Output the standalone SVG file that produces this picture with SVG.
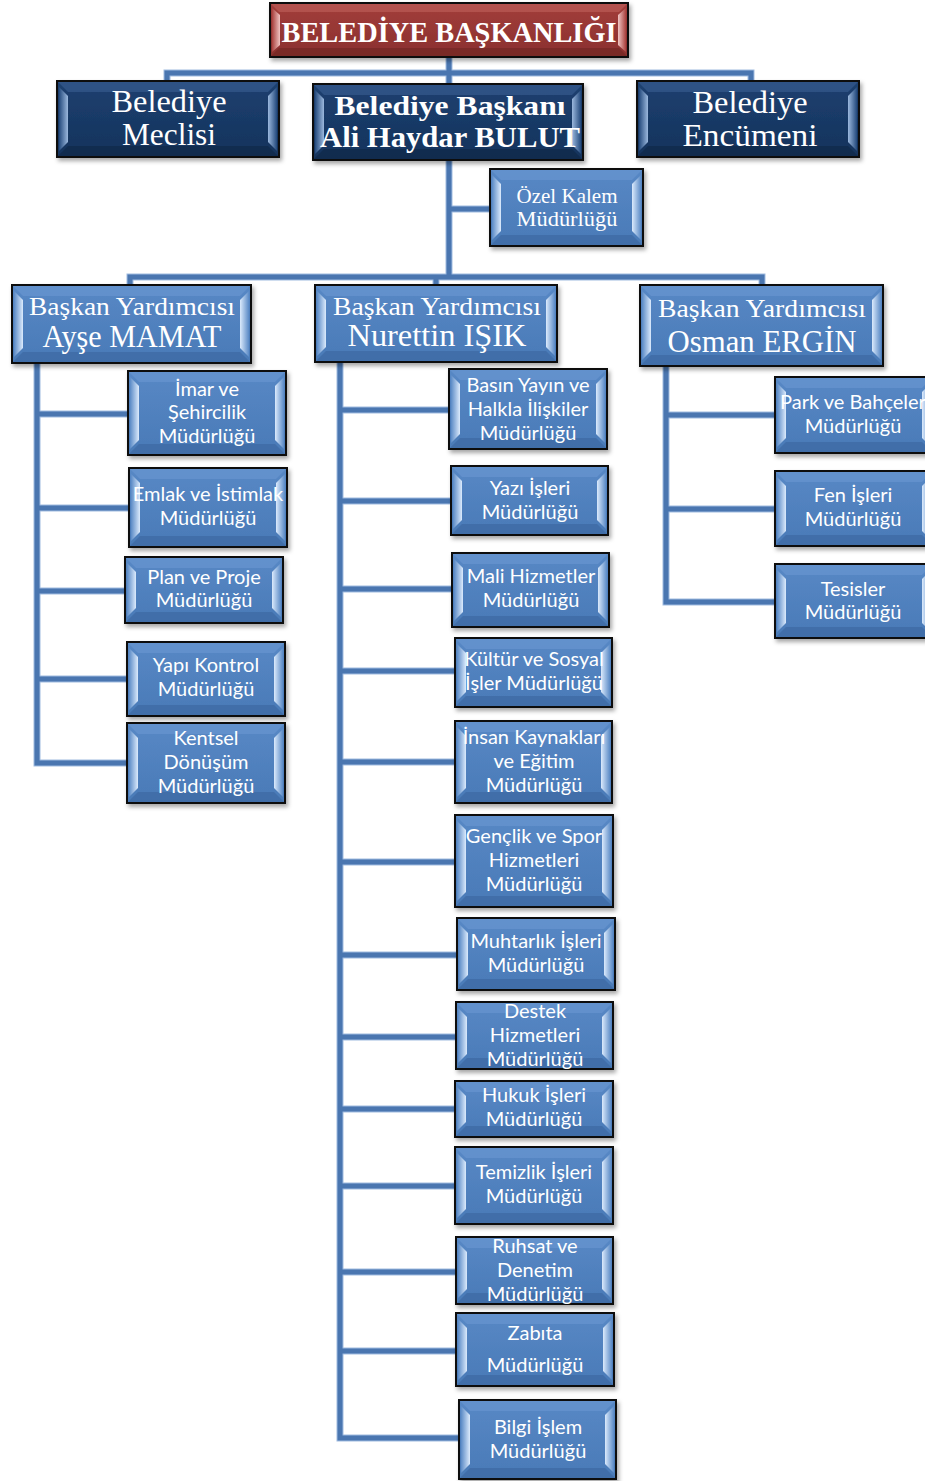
<svg xmlns="http://www.w3.org/2000/svg" width="925" height="1481" viewBox="0 0 925 1481">
<defs>
<filter id="sh" x="-10%" y="-10%" width="125%" height="130%"><feDropShadow dx="2" dy="3" stdDeviation="2" flood-color="#000" flood-opacity="0.35"/></filter>
<linearGradient id="gb" x1="0" y1="0" x2="0" y2="1"><stop offset="0" stop-color="#5788c5"/><stop offset="1" stop-color="#4a7ab7"/></linearGradient>
<linearGradient id="gn" x1="0" y1="0" x2="0" y2="1"><stop offset="0" stop-color="#1d4070"/><stop offset="1" stop-color="#15335c"/></linearGradient>
<linearGradient id="gr" x1="0" y1="0" x2="0" y2="1"><stop offset="0" stop-color="#a33e3b"/><stop offset="1" stop-color="#8a302e"/></linearGradient>
<linearGradient id="flb" x1="0" y1="0" x2="1" y2="0"><stop offset="0" stop-color="#5a8ac6"/><stop offset="1" stop-color="#dbeafc"/></linearGradient>
<linearGradient id="frb" x1="1" y1="0" x2="0" y2="0"><stop offset="0" stop-color="#5a8ac6"/><stop offset="1" stop-color="#dbeafc"/></linearGradient>
<linearGradient id="fln" x1="0" y1="0" x2="1" y2="0"><stop offset="0" stop-color="#23497c"/><stop offset="1" stop-color="#9bb8dd"/></linearGradient>
<linearGradient id="frn" x1="1" y1="0" x2="0" y2="0"><stop offset="0" stop-color="#23497c"/><stop offset="1" stop-color="#9bb8dd"/></linearGradient>
<linearGradient id="flr" x1="0" y1="0" x2="1" y2="0"><stop offset="0" stop-color="#a8403d"/><stop offset="1" stop-color="#f0c4c2"/></linearGradient>
<linearGradient id="frr" x1="1" y1="0" x2="0" y2="0"><stop offset="0" stop-color="#a8403d"/><stop offset="1" stop-color="#f0c4c2"/></linearGradient>
</defs>
<style>
.bx{stroke:#111;stroke-width:2;filter:url(#sh)}
.blue .bx{fill:url(#gb)} .navy .bx{fill:url(#gn)} .red .bx{fill:url(#gr)}
.blue .fl{fill:url(#flb)} .blue .fr{fill:url(#frb)}
.navy .fl{fill:url(#fln)} .navy .fr{fill:url(#frn)}
.red .fl{fill:url(#flr)} .red .fr{fill:url(#frr)}
.blue .ft{fill:#6a98d2;opacity:.6} .blue .fb{fill:#3a669f;opacity:.6}
.navy .ft{fill:#3a5f92;opacity:.6} .navy .fb{fill:#0f2645;opacity:.6}
.red .ft{fill:#c0605c;opacity:.6} .red .fb{fill:#6e2422;opacity:.6}
text{fill:#fff;text-anchor:middle}
.s{font-family:Lato,"Liberation Sans",sans-serif;font-size:20px}
.sf{font-family:"Liberation Serif","DejaVu Serif",serif}
.cn path{fill:none;stroke-linejoin:miter}
.cn .o{stroke:#9fbbe0;stroke-width:7}
.cn .i{stroke:#4a76b0;stroke-width:5}
</style>

<g class="cn" id="connectors">
<g class="o">
<path d="M449 57V84M167 81V73H751V81M449 160V277M449 209H490M130 285V277H762V285M436 277V285"/>
<path d="M37 363V763H127M37 414H128M37 508H129M37 591H125M37 679H127"/>
<path d="M340 362V1438H459M340 410H449M340 501H451M340 589H452M340 671H455M340 762H455M340 862H455M340 955H457M340 1037H456M340 1109H455M340 1186H455M340 1272H456M340 1351H456"/>
<path d="M666 366V602H775M666 415H775M666 509H775"/>
</g>
<g class="i">
<path d="M449 57V84M167 81V73H751V81M449 160V277M449 209H490M130 285V277H762V285M436 277V285"/>
<path d="M37 363V763H127M37 414H128M37 508H129M37 591H125M37 679H127"/>
<path d="M340 362V1438H459M340 410H449M340 501H451M340 589H452M340 671H455M340 762H455M340 862H455M340 955H457M340 1037H456M340 1109H455M340 1186H455M340 1272H456M340 1351H456"/>
<path d="M666 366V602H775M666 415H775M666 509H775"/>
</g>
</g>

<g id="baskanlik" class="red" transform="translate(270,3)">
<rect class="bx" width="358" height="54"/>
<path class="ft" d="M1 1H357L349 9H9Z"/><path class="fb" d="M1 53H357L349 45H9Z"/>
<path class="fl" d="M2 5L10 12V42L2 49Z"/><path class="fr" d="M356 5L348 12V42L356 49Z"/>
<text class="sf" x="179" y="39" font-size="30" font-weight="bold" textLength="335" lengthAdjust="spacingAndGlyphs">BELEDİYE BAŞKANLIĞI</text>
</g>

<g id="meclis" class="navy" transform="translate(57,81)">
<rect class="bx" width="222" height="76"/>
<path class="ft" d="M1 1H221L211 11H11Z"/><path class="fb" d="M1 75H221L211 65H11Z"/>
<path class="fl" d="M2 6L11 15V61L2 70Z"/><path class="fr" d="M220 6L211 15V61L220 70Z"/>
<text class="sf" x="112" y="31" font-size="31" textLength="115" lengthAdjust="spacingAndGlyphs">Belediye</text>
<text class="sf" x="112" y="64" font-size="31" textLength="94" lengthAdjust="spacingAndGlyphs">Meclisi</text>
</g>

<g id="baskan" class="navy" transform="translate(313,84)">
<rect class="bx" width="270" height="76"/>
<path class="ft" d="M1 1H269L259 11H11Z"/><path class="fb" d="M1 75H269L259 65H11Z"/>
<path class="fl" d="M2 6L11 15V61L2 70Z"/><path class="fr" d="M268 6L259 15V61L268 70Z"/>
<text class="sf" x="137" y="31" font-size="28" font-weight="bold" textLength="231" lengthAdjust="spacingAndGlyphs">Belediye Başkanı</text>
<text class="sf" x="137" y="63" font-size="29" font-weight="bold" textLength="260" lengthAdjust="spacingAndGlyphs">Ali Haydar BULUT</text>
</g>

<g id="encumen" class="navy" transform="translate(637,81)">
<rect class="bx" width="222" height="76"/>
<path class="ft" d="M1 1H221L211 11H11Z"/><path class="fb" d="M1 75H221L211 65H11Z"/>
<path class="fl" d="M2 6L11 15V61L2 70Z"/><path class="fr" d="M220 6L211 15V61L220 70Z"/>
<text class="sf" x="113" y="32" font-size="31" textLength="115" lengthAdjust="spacingAndGlyphs">Belediye</text>
<text class="sf" x="113" y="65" font-size="31" textLength="135" lengthAdjust="spacingAndGlyphs">Encümeni</text>
</g>

<g id="ozelkalem" class="blue" transform="translate(490,169)">
<rect class="bx" width="153" height="77"/>
<path class="ft" d="M1 1H152L142 11H11Z"/><path class="fb" d="M1 76H152L142 66H11Z"/>
<path class="fl" d="M2 6L11 15V62L2 71Z"/><path class="fr" d="M151 6L142 15V62L151 71Z"/>
<text class="sf" x="77" y="34" font-size="21" textLength="101" lengthAdjust="spacingAndGlyphs">Özel Kalem</text>
<text class="sf" x="77" y="57" font-size="21" textLength="101" lengthAdjust="spacingAndGlyphs">Müdürlüğü</text>
</g>

<g id="vp-ayse" class="blue" transform="translate(12,285)">
<rect class="bx" width="239" height="78"/>
<path class="ft" d="M1 1H238L228 11H11Z"/><path class="fb" d="M1 77H238L228 67H11Z"/>
<path class="fl" d="M2 6L11 15V63L2 72Z"/><path class="fr" d="M237 6L228 15V63L237 72Z"/>
<text class="sf" x="120" y="30" font-size="26" textLength="206" lengthAdjust="spacingAndGlyphs">Başkan Yardımcısı</text>
<text class="sf" x="120" y="62" font-size="31" textLength="179" lengthAdjust="spacingAndGlyphs">Ayşe MAMAT</text>
</g>

<g id="vp-nurettin" class="blue" transform="translate(315,285)">
<rect class="bx" width="242" height="77"/>
<path class="ft" d="M1 1H241L231 11H11Z"/><path class="fb" d="M1 76H241L231 66H11Z"/>
<path class="fl" d="M2 6L11 15V62L2 71Z"/><path class="fr" d="M240 6L231 15V62L240 71Z"/>
<text class="sf" x="122" y="30" font-size="26" textLength="208" lengthAdjust="spacingAndGlyphs">Başkan Yardımcısı</text>
<text class="sf" x="122" y="61" font-size="31" textLength="179" lengthAdjust="spacingAndGlyphs">Nurettin IŞIK</text>
</g>

<g id="vp-osman" class="blue" transform="translate(640,285)">
<rect class="bx" width="243" height="81"/>
<path class="ft" d="M1 1H242L232 11H11Z"/><path class="fb" d="M1 80H242L232 70H11Z"/>
<path class="fl" d="M2 6L11 15V66L2 75Z"/><path class="fr" d="M241 6L232 15V66L241 75Z"/>
<text class="sf" x="122" y="32" font-size="26" textLength="208" lengthAdjust="spacingAndGlyphs">Başkan Yardımcısı</text>
<text class="sf" x="122" y="67" font-size="31" textLength="189" lengthAdjust="spacingAndGlyphs">Osman ERGİN</text>
</g>

<g id="imar" class="blue" transform="translate(128,371)">
<rect class="bx" width="158" height="84"/>
<path class="ft" d="M1 1H157L147 11H11Z"/><path class="fb" d="M1 83H157L147 73H11Z"/>
<path class="fl" d="M2 6L11 15V69L2 78Z"/><path class="fr" d="M156 6L147 15V69L156 78Z"/>
<text class="s" x="79" y="25">İmar ve</text><text class="s" x="79" y="48">Şehircilik</text><text class="s" x="79" y="72">Müdürlüğü</text>
</g>

<g id="emlak" class="blue" transform="translate(129,468)">
<rect class="bx" width="158" height="79"/>
<path class="ft" d="M1 1H157L147 11H11Z"/><path class="fb" d="M1 78H157L147 68H11Z"/>
<path class="fl" d="M2 6L11 15V64L2 73Z"/><path class="fr" d="M156 6L147 15V64L156 73Z"/>
<text class="s" x="79" y="33">Emlak ve İstimlak</text><text class="s" x="79" y="57">Müdürlüğü</text>
</g>

<g id="plan" class="blue" transform="translate(125,557)">
<rect class="bx" width="158" height="66"/>
<path class="ft" d="M1 1H157L147 11H11Z"/><path class="fb" d="M1 65H157L147 55H11Z"/>
<path class="fl" d="M2 6L11 15V51L2 60Z"/><path class="fr" d="M156 6L147 15V51L156 60Z"/>
<text class="s" x="79" y="27">Plan ve Proje</text><text class="s" x="79" y="50">Müdürlüğü</text>
</g>

<g id="yapi" class="blue" transform="translate(127,642)">
<rect class="bx" width="158" height="74"/>
<path class="ft" d="M1 1H157L147 11H11Z"/><path class="fb" d="M1 73H157L147 63H11Z"/>
<path class="fl" d="M2 6L11 15V59L2 68Z"/><path class="fr" d="M156 6L147 15V59L156 68Z"/>
<text class="s" x="79" y="30">Yapı Kontrol</text><text class="s" x="79" y="54">Müdürlüğü</text>
</g>

<g id="kentsel" class="blue" transform="translate(127,723)">
<rect class="bx" width="158" height="80"/>
<path class="ft" d="M1 1H157L147 11H11Z"/><path class="fb" d="M1 79H157L147 69H11Z"/>
<path class="fl" d="M2 6L11 15V65L2 74Z"/><path class="fr" d="M156 6L147 15V65L156 74Z"/>
<text class="s" x="79" y="22">Kentsel</text><text class="s" x="79" y="46">Dönüşüm</text><text class="s" x="79" y="70">Müdürlüğü</text>
</g>

<g id="basin" class="blue" transform="translate(449,369)">
<rect class="bx" width="158" height="80"/>
<path class="ft" d="M1 1H157L147 11H11Z"/><path class="fb" d="M1 79H157L147 69H11Z"/>
<path class="fl" d="M2 6L11 15V65L2 74Z"/><path class="fr" d="M156 6L147 15V65L156 74Z"/>
<text class="s" x="79" y="23">Basın Yayın ve</text><text class="s" x="79" y="47">Halkla İlişkiler</text><text class="s" x="79" y="71">Müdürlüğü</text>
</g>

<g id="yazi" class="blue" transform="translate(451,466)">
<rect class="bx" width="157" height="69"/>
<path class="ft" d="M1 1H156L146 11H11Z"/><path class="fb" d="M1 68H156L146 58H11Z"/>
<path class="fl" d="M2 6L11 15V54L2 63Z"/><path class="fr" d="M155 6L146 15V54L155 63Z"/>
<text class="s" x="79" y="29">Yazı İşleri</text><text class="s" x="79" y="53">Müdürlüğü</text>
</g>

<g id="mali" class="blue" transform="translate(452,553)">
<rect class="bx" width="157" height="74"/>
<path class="ft" d="M1 1H156L146 11H11Z"/><path class="fb" d="M1 73H156L146 63H11Z"/>
<path class="fl" d="M2 6L11 15V59L2 68Z"/><path class="fr" d="M155 6L146 15V59L155 68Z"/>
<text class="s" x="79" y="30">Mali Hizmetler</text><text class="s" x="79" y="54">Müdürlüğü</text>
</g>

<g id="kultur" class="blue" transform="translate(455,638)">
<rect class="bx" width="157" height="69"/>
<path class="ft" d="M1 1H156L146 11H11Z"/><path class="fb" d="M1 68H156L146 58H11Z"/>
<path class="fl" d="M2 6L11 15V54L2 63Z"/><path class="fr" d="M155 6L146 15V54L155 63Z"/>
<text class="s" x="79" y="28">Kültür ve Sosyal</text><text class="s" x="79" y="52">İşler Müdürlüğü</text>
</g>

<g id="insan" class="blue" transform="translate(455,721)">
<rect class="bx" width="157" height="82"/>
<path class="ft" d="M1 1H156L146 11H11Z"/><path class="fb" d="M1 81H156L146 71H11Z"/>
<path class="fl" d="M2 6L11 15V67L2 76Z"/><path class="fr" d="M155 6L146 15V67L155 76Z"/>
<text class="s" x="79" y="23">İnsan Kaynakları</text><text class="s" x="79" y="47">ve Eğitim</text><text class="s" x="79" y="71">Müdürlüğü</text>
</g>

<g id="genclik" class="blue" transform="translate(455,815)">
<rect class="bx" width="158" height="92"/>
<path class="ft" d="M1 1H157L147 11H11Z"/><path class="fb" d="M1 91H157L147 81H11Z"/>
<path class="fl" d="M2 6L11 15V77L2 86Z"/><path class="fr" d="M156 6L147 15V77L156 86Z"/>
<text class="s" x="79" y="28">Gençlik ve Spor</text><text class="s" x="79" y="52">Hizmetleri</text><text class="s" x="79" y="76">Müdürlüğü</text>
</g>

<g id="muhtarlik" class="blue" transform="translate(457,918)">
<rect class="bx" width="158" height="72"/>
<path class="ft" d="M1 1H157L147 11H11Z"/><path class="fb" d="M1 71H157L147 61H11Z"/>
<path class="fl" d="M2 6L11 15V57L2 66Z"/><path class="fr" d="M156 6L147 15V57L156 66Z"/>
<text class="s" x="79" y="30">Muhtarlık İşleri</text><text class="s" x="79" y="54">Müdürlüğü</text>
</g>

<g id="destek" class="blue" transform="translate(456,1002)">
<rect class="bx" width="157" height="67"/>
<path class="ft" d="M1 1H156L146 11H11Z"/><path class="fb" d="M1 66H156L146 56H11Z"/>
<path class="fl" d="M2 6L11 15V52L2 61Z"/><path class="fr" d="M155 6L146 15V52L155 61Z"/>
<text class="s" x="79" y="16">Destek</text><text class="s" x="79" y="40">Hizmetleri</text><text class="s" x="79" y="64">Müdürlüğü</text>
</g>

<g id="hukuk" class="blue" transform="translate(455,1081)">
<rect class="bx" width="158" height="56"/>
<path class="ft" d="M1 1H157L147 11H11Z"/><path class="fb" d="M1 55H157L147 45H11Z"/>
<path class="fl" d="M2 6L11 15V41L2 50Z"/><path class="fr" d="M156 6L147 15V41L156 50Z"/>
<text class="s" x="79" y="21">Hukuk İşleri</text><text class="s" x="79" y="45">Müdürlüğü</text>
</g>

<g id="temizlik" class="blue" transform="translate(455,1147)">
<rect class="bx" width="158" height="77"/>
<path class="ft" d="M1 1H157L147 11H11Z"/><path class="fb" d="M1 76H157L147 66H11Z"/>
<path class="fl" d="M2 6L11 15V62L2 71Z"/><path class="fr" d="M156 6L147 15V62L156 71Z"/>
<text class="s" x="79" y="32">Temizlik İşleri</text><text class="s" x="79" y="56">Müdürlüğü</text>
</g>

<g id="ruhsat" class="blue" transform="translate(456,1237)">
<rect class="bx" width="157" height="67"/>
<path class="ft" d="M1 1H156L146 11H11Z"/><path class="fb" d="M1 66H156L146 56H11Z"/>
<path class="fl" d="M2 6L11 15V52L2 61Z"/><path class="fr" d="M155 6L146 15V52L155 61Z"/>
<text class="s" x="79" y="16">Ruhsat ve</text><text class="s" x="79" y="40">Denetim</text><text class="s" x="79" y="64">Müdürlüğü</text>
</g>

<g id="zabita" class="blue" transform="translate(456,1313)">
<rect class="bx" width="158" height="73"/>
<path class="ft" d="M1 1H157L147 11H11Z"/><path class="fb" d="M1 72H157L147 62H11Z"/>
<path class="fl" d="M2 6L11 15V58L2 67Z"/><path class="fr" d="M156 6L147 15V58L156 67Z"/>
<text class="s" x="79" y="27">Zabıta</text><text class="s" x="79" y="59">Müdürlüğü</text>
</g>

<g id="bilgi" class="blue" transform="translate(459,1400)">
<rect class="bx" width="157" height="79"/>
<path class="ft" d="M1 1H156L146 11H11Z"/><path class="fb" d="M1 78H156L146 68H11Z"/>
<path class="fl" d="M2 6L11 15V64L2 73Z"/><path class="fr" d="M155 6L146 15V64L155 73Z"/>
<text class="s" x="79" y="34">Bilgi İşlem</text><text class="s" x="79" y="58">Müdürlüğü</text>
</g>

<g id="park" class="blue" transform="translate(775,377)">
<rect class="bx" width="158" height="76"/>
<path class="ft" d="M1 1H157L147 11H11Z"/><path class="fb" d="M1 75H157L147 65H11Z"/>
<path class="fl" d="M2 6L11 15V61L2 70Z"/><path class="fr" d="M156 6L147 15V61L156 70Z"/>
<text class="s" x="78" y="32">Park ve Bahçeler</text><text class="s" x="78" y="56">Müdürlüğü</text>
</g>

<g id="fen" class="blue" transform="translate(775,471)">
<rect class="bx" width="158" height="75"/>
<path class="ft" d="M1 1H157L147 11H11Z"/><path class="fb" d="M1 74H157L147 64H11Z"/>
<path class="fl" d="M2 6L11 15V60L2 69Z"/><path class="fr" d="M156 6L147 15V60L156 69Z"/>
<text class="s" x="78" y="31">Fen İşleri</text><text class="s" x="78" y="55">Müdürlüğü</text>
</g>

<g id="tesisler" class="blue" transform="translate(775,564)">
<rect class="bx" width="158" height="74"/>
<path class="ft" d="M1 1H157L147 11H11Z"/><path class="fb" d="M1 73H157L147 63H11Z"/>
<path class="fl" d="M2 6L11 15V59L2 68Z"/><path class="fr" d="M156 6L147 15V59L156 68Z"/>
<text class="s" x="78" y="32">Tesisler</text><text class="s" x="78" y="55">Müdürlüğü</text>
</g>
</svg>
